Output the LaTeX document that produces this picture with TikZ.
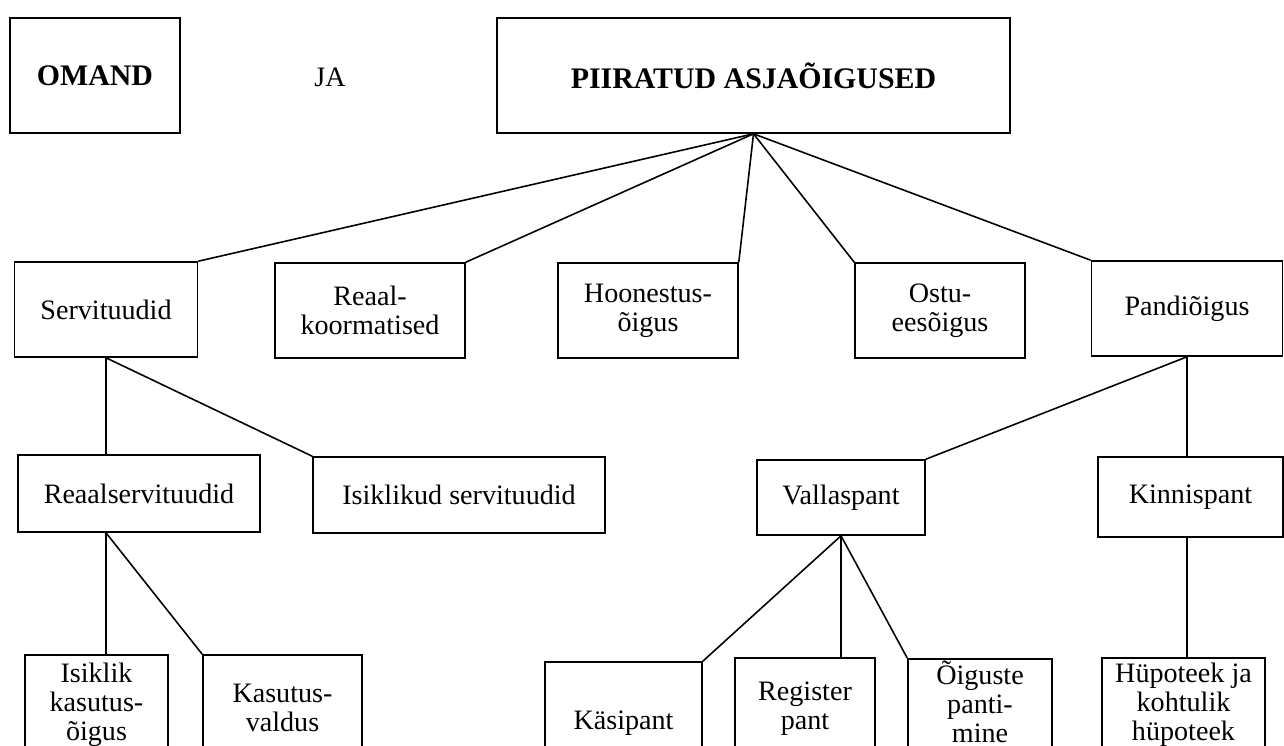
\documentclass[tikz,border=0pt]{standalone}
\usepackage{fontspec}
\setmainfont{Liberation Serif}
\begin{document}
\begin{tikzpicture}[x=0.02cm, y=-0.02cm, line width=0.9pt,
  box/.style={draw, inner sep=0pt, align=center, font=\fontsize{16}{16.5}\selectfont},
  headbox/.style={box, font=\fontsize{17}{18}\selectfont\bfseries},
  wh/.style 2 args={minimum width=#1*0.02cm, minimum height=#2*0.02cm}]

  \useasboundingbox (0,0) rectangle (1284,745);

  % ---------------- title row ----------------
  \node[headbox, wh={170}{115}] (omand) at (95,75.5) {OMAND};
  \node[font=\fontsize{16}{16.5}\selectfont] (ja) at (330,77) {JA};
  \node[headbox, wh={513}{115}] (piir) at (753.5,75.5) {PIIRATUD ASJAÕIGUSED};

  % ---------------- second row ----------------
  \node[box, wh={183}{95}] (serv) at (106,309.5) {Servituudid};
  \node[box, wh={190}{95}] (reaalk) at (370,310.5) {Reaal-\\koormatised};
  \node[box, wh={180}{95}] (hoon) at (648,310.5) {Hoonestus-\\õigus};
  \node[box, wh={170}{95}] (ostu) at (940,310.5) {Ostu-\\eesõigus};
  \node[box, wh={191}{95}] (pandi) at (1187,308.5) {Pandiõigus};

  \draw (piir.south) -- (serv.north east);
  \draw (piir.south) -- (reaalk.north east);
  \draw (piir.south) -- (hoon.north east);
  \draw (piir.south) -- (ostu.north west);
  \draw (piir.south) -- (pandi.north west);

  % ---------------- third row ----------------
  \node[box, wh={242}{77}] (reaals) at (139,493.5) {Reaalservituudid};
  \node[box, wh={292}{76}] (isikls) at (459,495) {Isiklikud servituudid};
  \node[box, wh={168}{75}] (valla) at (841,497.5) {Vallaspant};
  \node[box, wh={185}{80}] (kinnis) at (1190.5,497) {Kinnispant};

  \draw (serv.south) -- (serv.south |- reaals.north);
  \draw (serv.south) -- (isikls.north west);
  \draw (pandi.south) -- (pandi.south |- kinnis.north);
  \draw (pandi.south) -- (valla.north east);

  % ---------------- bottom row (runs off the page) ----------------
  \node[box, wh={143}{100}] (isk) at (96.5,705) {Isiklik\\kasutus-\\õigus};
  \node[box, wh={159}{106}] (kasv) at (282.5,708) {Kasutus-\\valdus};
  \node[box, wh={157}{122}] (kasi) at (623.5,723) {Käsipant};
  \node[box, wh={140}{102}] (reg) at (805,709) {Register\\pant};
  \node[box, anchor=north, minimum width=144*0.02cm, inner ysep=1pt, text depth=18pt] (oig) at (980,658) {Õiguste\\panti-\\mine};
  \node[box, wh={163}{94}] (hyp) at (1183.5,705) {Hüpoteek ja\\kohtulik\\hüpoteek};

  \coordinate (rs) at (serv.south |- reaals.south);
  \draw (rs) -- (rs |- isk.north);
  \draw (rs) -- (kasv.north west);
  \draw (valla.south) -- (kasi.north east);
  \draw (valla.south) -- (valla.south |- reg.north);
  \draw (valla.south) -- (oig.north west);
  \coordinate (ks) at (pandi.south |- kinnis.south);
  \draw (ks) -- (ks |- hyp.north);

\end{tikzpicture}
\end{document}
